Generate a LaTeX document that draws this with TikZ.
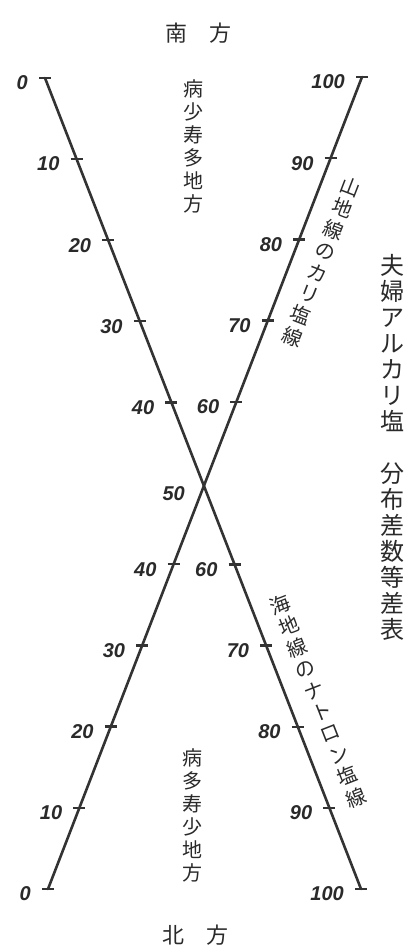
\documentclass[tikz,border=0pt]{standalone}
\usepackage{fontspec}
\newfontfamily\jp{Noto Sans CJK JP}
\newfontfamily\numf{Liberation Sans}
\definecolor{inkc}{HTML}{333333}
\definecolor{txtc}{HTML}{2A2A2A}
\begin{document}
\begin{tikzpicture}[x=1pt,y=1pt,
  axisline/.style={line width=2.6pt, draw=inkc, line cap=round},
  tickmark/.style={line width=2.4pt, draw=inkc},
  numlab/.style={font=\numf\bfseries\itshape\fontsize{20}{20}\selectfont, text=txtc, anchor=east, inner sep=0pt},
  vjp/.style={font=\jp\fontsize{20}{23}\selectfont, align=center, inner sep=0pt, text=txtc},
  hjp/.style={font=\jp\fontsize{22}{22}\selectfont, inner sep=0pt, text=txtc},
  titlejp/.style={font=\jp\fontsize{24}{26}\selectfont, align=center, inner sep=0pt, text=txtc}
]
\useasboundingbox (0,0) rectangle (406,947);
\coordinate (A0) at (45,869);
\coordinate (A100) at (361,58);
\coordinate (B0) at (48,58);
\coordinate (B100) at (362,870);
\draw[axisline] (A0) -- (A100);
\draw[axisline] (B0) -- (B100);
\foreach \v in {0,10,20,30,40,60,70,80,90,100} {
  \pgfmathsetmacro\p{\v/100}
  \path (A0) -- (A100) coordinate[pos=\p] (A\v);
  \path (B0) -- (B100) coordinate[pos=\p] (B\v);
  \draw[tickmark] ([xshift=-6pt]A\v) -- ([xshift=6pt]A\v);
  \draw[tickmark] ([xshift=-6pt]B\v) -- ([xshift=6pt]B\v);
  \node[numlab] (LA\v) at ([xshift=-17pt,yshift=-5pt]A\v) {\v};
  \node[numlab] (LB\v) at ([xshift=-17pt,yshift=-5pt]B\v) {\v};
}
\path (A0) -- (A100) coordinate[pos=0.5] (X50);
\node[numlab] (L50) at ([xshift=-18pt,yshift=-10pt]X50) {50};

\node[hjp] (south) at (198,914) {南　方};
\node[hjp] (north) at (195,12) {北　方};
\node[vjp] (toptext) at (193,800.5) {病\\少\\寿\\多\\地\\方};
\node[vjp] (bottext) at (192,132) {病\\多\\寿\\少\\地\\方};
\node[vjp, rotate=-21.1] (kali) at (321.5,685) {山\\地\\線\\の\\カ\\リ\\塩\\線};
\node[vjp, rotate=21.3] (natron) at (318,246) {海\\地\\線\\の\\ナ\\ト\\ロ\\ン\\塩\\線};
\node[titlejp] (title) at (392,500) {夫\\婦\\ア\\ル\\カ\\リ\\塩\\　\\分\\布\\差\\数\\等\\差\\表};
\end{tikzpicture}
\end{document}
